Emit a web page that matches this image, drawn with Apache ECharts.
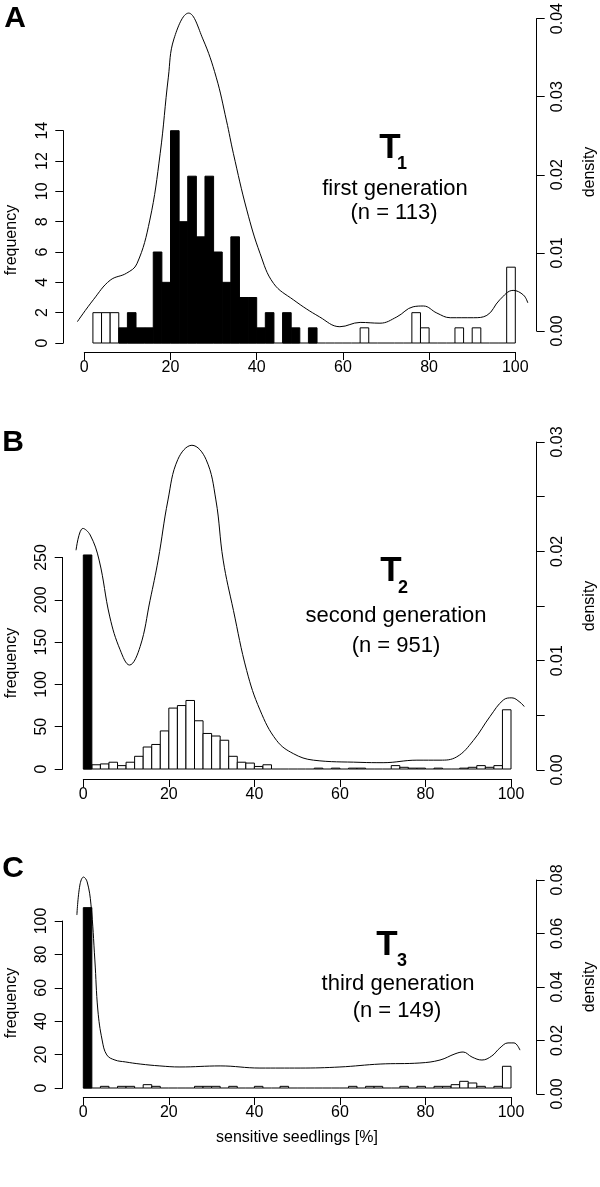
<!DOCTYPE html>
<html><head><meta charset="utf-8">
<script src="https://cdn.jsdelivr.net/npm/echarts@6/dist/echarts.min.js"></script>
<style>html,body{margin:0;padding:0;background:#fff}#c{width:600px;height:1187px}</style>
</head><body><div id="c"></div>
<script>
// ---------- DATA ----------
const binStart = [0,2,4,6,8,10,12,14,16,18,20,22,24,26,28,30,32,34,36,38,40,42,44,46,48,50,52,54,56,58,60,62,64,66,68,70,72,74,76,78,80,82,84,86,88,90,92,94,96,98];
const binWidth = 2;
const xTicks = [0,20,40,60,80,100];

// Panel A (first generation, n = 113)
const A_black = [0,0,0,0,1,2,1,1,6,4, 14,8,11,7,11,6,4,7,3,3, 1,2,0,2,1,0,1,0,0,0, 0,0,0,0,0,0,0,0,0,0, 0,0,0,0,0,0,0,0,0,0];
const A_white = [0,2,2,2,0,0,0,0,0,0, 0,0,0,0,0,0,0,0,0,0, 0,0,0,0,0,0,0,0,0,0, 0,0,1,0,0,0,0,0,2,1, 0,0,0,1,0,1,0,0,0,5];
const A_densX = [-1.6,2.1,6.0,9.8,12.2,15.2,17.6,19.5,20.8,24.2,27.5,30.6,33.0,34.6,37.7,40.8,43.9,48.5,54.6,59.3,64.0,68.6,72.5,76.3,78.7,81.8,84.9,90.3,93.4,96.4,99.5,101.9,102.9];
const A_densY = [0.0012,0.0040,0.0065,0.0074,0.0086,0.0142,0.0227,0.0325,0.0374,0.0407,0.0374,0.0325,0.0269,0.0227,0.0155,0.0099,0.0061,0.0040,0.0018,0.00055,0.0011,0.0010,0.0018,0.0031,0.0032,0.0023,0.0017,0.0017,0.0020,0.0040,0.0052,0.0046,0.0036];

// Panel B (second generation, n = 951)
const B_black = [253,0,0,0,0,0,0,0,0,0, 0,0,0,0,0,0,0,0,0,0, 0,0,0,0,0,0,0,0,0,0, 0,0,0,0,0,0,0,0,0,0, 0,0,0,0,0,0,0,0,0,0];
const B_white = [0,5,6,8,4,8,15,26,29,45, 72,75,81,57,42,39,34,15,8,7, 3,5,0,0,0,0,0,1,0,1, 0,1,1,0,0,0,4,2,1,1, 0,1,0,0,1,2,4,2,4,70];
const B_densX = [-1.7,-0.1,1.6,3.7,6.2,8.6,10.8,13.3,15.6,17.5,19.8,22.1,25.4,28.7,31.0,32.7,35.1,38.2,41.3,45.2,49.1,53.8,64.7,70.1,78.0,83.4,87.3,91.2,95.1,98.2,100.2,102.1,103.1];
const B_densY = [0.0201,0.0221,0.0215,0.0192,0.0140,0.0110,0.0096,0.0113,0.0155,0.0192,0.0247,0.0284,0.0297,0.0284,0.0247,0.0192,0.0146,0.0091,0.0055,0.0027,0.0015,0.0009,0.0007,0.00067,0.0009,0.0009,0.0012,0.0027,0.0049,0.0064,0.0066,0.0062,0.0058];

// Panel C (third generation, n = 149)
const C_black = [108,0,0,0,0,0,0,0,0,0, 0,0,0,0,0,0,0,0,0,0, 0,0,0,0,0,0,0,0,0,0, 0,0,0,0,0,0,0,0,0,0, 0,0,0,0,0,0,0,0,0,0];
const C_white = [0,0,1,0,1,1,0,2,1,0, 0,0,0,1,1,1,0,1,0,0, 1,0,0,1,0,0,0,0,0,0, 0,1,0,1,1,0,0,1,0,1, 0,1,1,2,4,3,1,0,1,13];
const C_densX = [-1.5,-0.8,0.05,0.9,1.8,2.7,3.4,4.4,5.5,7.4,9.8,13.3,17.9,22.6,32.0,41.3,50.7,60.0,69.4,78.7,83.4,86.9,88.8,90.9,93.2,95.5,97.4,99.3,100.7,102.1];
const C_densY = [0.0669,0.0781,0.0811,0.0793,0.0707,0.0501,0.0314,0.0202,0.0146,0.0127,0.0120,0.0112,0.0105,0.0101,0.0105,0.0097,0.0097,0.0101,0.0112,0.0116,0.0127,0.0150,0.0157,0.0138,0.0127,0.0142,0.0172,0.0191,0.0191,0.0164];

// ---------- LAYOUT ----------
const FONT = 'Liberation Sans, Arial, Helvetica, sans-serif';
const panels = [
  {black:A_black, white:A_white, firstBin:1, dx:A_densX, dy:A_densY,
   x0:84.3, x100:515.3, axisY:352, fBase:343, fTop:130.7, fMax:14, fInt:2,
   dBase:331, dTop:17.5, dMax:0.04, dInt:0.01, dLabelStep:0.01, leftX:63.3, rightX:536.7},
  {black:B_black, white:B_white, firstBin:0, dx:B_densX, dy:B_densY,
   x0:83.3, x100:511, axisY:779, fBase:769, fTop:557.5, fMax:250, fInt:50,
   dBase:770, dTop:442, dMax:0.03, dInt:0.005, dLabelStep:0.01, leftX:62.7, rightX:536.7},
  {black:C_black, white:C_white, firstBin:0, dx:C_densX, dy:C_densY,
   x0:83.3, x100:511, axisY:1097, fBase:1088, fTop:921, fMax:100, fInt:20,
   dBase:1094, dTop:880, dMax:0.08, dInt:0.02, dLabelStep:0.02, leftX:62.7, rightX:536.7}
];

const grid=[], xAxis=[], yAxis=[], series=[];
function axisBase(){
  return {
    axisLine:{show:true, onZero:false, lineStyle:{color:'#000', width:1}},
    axisTick:{show:true, length:8, lineStyle:{color:'#000', width:1}},
    splitLine:{show:false},
    axisLabel:{color:'#000', fontSize:16, fontFamily:FONT}
  };
}

function histData(arr, from, keepZero){
  const out=[];
  for(let i=from;i<arr.length;i++){
    if(arr[i]>0 || keepZero) out.push([binStart[i], binStart[i]+binWidth, arr[i]]);
  }
  return out;
}
function histRender(fill){
  return function(params, api){
    const a=api.value(0), b=api.value(1), c=api.value(2);
    const p0=api.coord([a,0]), p1=api.coord([b,c]);
    if(c===0){
      return {type:'line', shape:{x1:p0[0],y1:p0[1],x2:p1[0],y2:p0[1]}, style:{stroke:'#000',lineWidth:1}};
    }
    return {type:'rect', shape:{x:p0[0], y:p1[1], width:p1[0]-p0[0], height:p0[1]-p1[1]},
            style:{fill:fill, stroke:'#000', lineWidth:1}};
  };
}

panels.forEach((p,k)=>{
  const ppu=(p.x100-p.x0)/100;
  const gh=grid.length;
  grid.push({left:p.x0, width:p.x100-p.x0, top:p.fTop, height:p.fBase-p.fTop, containLabel:false});
  const gd=grid.length;
  const dmin=-5, dmax=105;
  const dl=p.x0+dmin*ppu, dw=(dmax-dmin)*ppu;
  grid.push({left:dl, width:dw, top:p.dTop, height:p.dBase-p.dTop, containLabel:false});

  const xh=xAxis.length;
  const xa=axisBase();
  xa.axisLabel.margin=8;
  xAxis.push(Object.assign(xa, {type:'value', gridIndex:gh, min:0, max:100, interval:20, position:'bottom',
     offset:p.axisY-p.fBase}));
  const xd=xAxis.length;
  xAxis.push({type:'value', gridIndex:gd, min:dmin, max:dmax, show:false});

  const yh=yAxis.length;
  const ya=axisBase();
  ya.axisLabel.rotate=90; ya.axisLabel.margin=13;
  yAxis.push(Object.assign(ya, {type:'value', gridIndex:gh, min:0, max:p.fMax, interval:p.fInt, position:'left',
     offset:p.x0-p.leftX}));
  const yd=yAxis.length;
  const step=p.dLabelStep;
  const yb=axisBase();
  yb.axisLabel.rotate=90; yb.axisLabel.margin=13;
  yb.axisLabel.formatter=v=>{const r=v/step; return Math.abs(r-Math.round(r))<1e-6 ? v.toFixed(2) : '';};
  yAxis.push(Object.assign(yb, {type:'value', gridIndex:gd, min:0, max:p.dMax, interval:p.dInt, position:'right',
     offset:p.rightX-(dl+dw)}));

  series.push({type:'custom', xAxisIndex:xh, yAxisIndex:yh, renderItem:histRender('#fff'),
     data:histData(p.white, p.firstBin, true), silent:true, z:2});
  series.push({type:'custom', xAxisIndex:xh, yAxisIndex:yh, renderItem:histRender('#000'),
     data:histData(p.black, 0, false), silent:true, z:3});
  series.push({type:'line', xAxisIndex:xd, yAxisIndex:yd, smooth:0.4, symbol:'none', clip:false,
     lineStyle:{color:'#000', width:1}, data:p.dx.map((x,i)=>[x,p.dy[i]]), silent:true, z:4});
});

function txt(x,y,text,size,weight,align,rot){
  return {type:'text', x:x, y:y, rotation:rot||0, silent:true,
    style:{text:text, fontSize:size, fontWeight:weight||'normal', fontFamily:FONT, fill:'#000',
           align:align||'center', verticalAlign:'middle'}};
}
const R90=Math.PI/2;
const graphic=[
  txt(15,19,'A',30,'bold'), txt(13,443,'B',30,'bold'), txt(13,869,'C',30,'bold'),
  txt(390,148,'T',35,'bold'), txt(402,164,'1',18,'bold'),
  txt(395,189,'first generation',22), txt(394,213,'(n = 113)',22),
  txt(391,571,'T',35,'bold'), txt(403,588,'2',18,'bold'),
  txt(396,616,'second generation',22), txt(396,646,'(n = 951)',22),
  txt(387,945,'T',35,'bold'), txt(402,961,'3',18,'bold'),
  txt(398,984,'third generation',22), txt(397,1011,'(n = 149)',22),
  txt(12,240,'frequency',16,'normal','center',R90),
  txt(12,663,'frequency',16,'normal','center',R90),
  txt(12,1003,'frequency',16,'normal','center',R90),
  txt(590,172,'density',16,'normal','center',R90),
  txt(590,606,'density',16,'normal','center',R90),
  txt(590,987,'density',16,'normal','center',R90),
  txt(297,1138,'sensitive seedlings [%]',16)
];

const chart=echarts.init(document.getElementById('c'),null,{renderer:'canvas'});
chart.setOption({animation:false, backgroundColor:'#fff', grid, xAxis, yAxis, series, graphic});
</script></body></html>
